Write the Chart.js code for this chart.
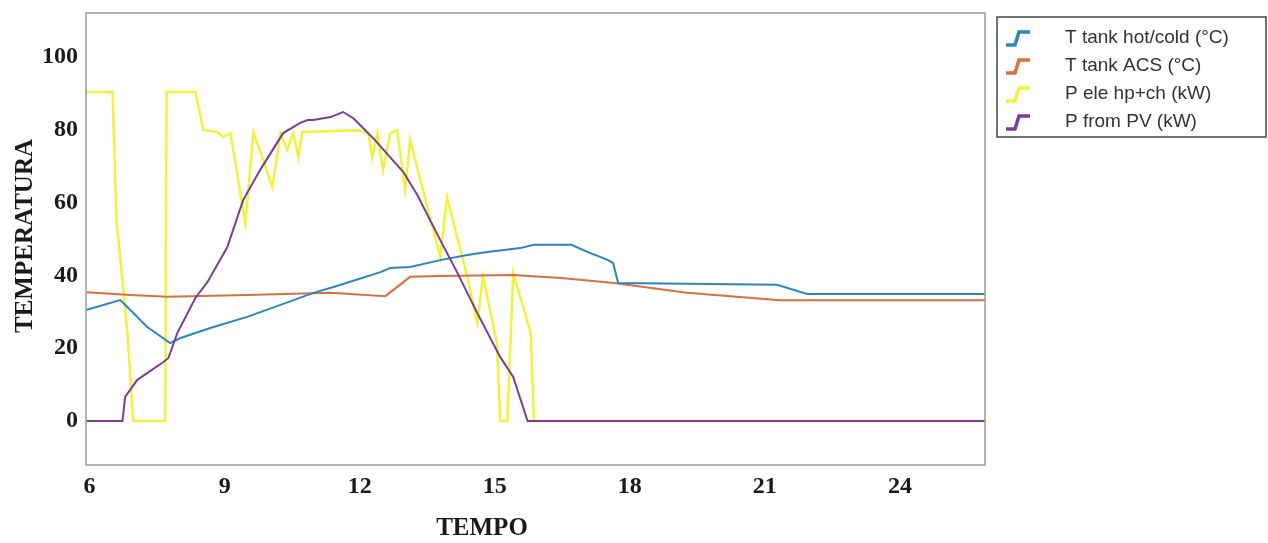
<!DOCTYPE html>
<html>
<head>
<meta charset="utf-8">
<script src="https://cdn.jsdelivr.net/npm/chart.js@4.4.1/dist/chart.umd.min.js"></script>
<style>
  html, body { margin: 0; padding: 0; background: #ffffff; }
  canvas { display: block; }
</style>
</head>
<body>
<canvas id="c" width="1268" height="543"></canvas>
<script>
// ---- Data ----
const seriesNames = ["T tank hot/cold (°C)", "T tank ACS (°C)", "P ele hp+ch (kW)", "P from PV (kW)"];

const hotColdHours = [5.92, 6.68, 6.84, 7.28, 7.79, 8.02, 8.75, 9.50, 10.24, 10.97, 11.42, 12.46, 12.68, 13.12, 13.79, 14.39, 14.83, 15.57, 15.87, 16.70, 17.07, 17.52, 17.63, 17.74, 21.27, 21.94, 25.89];
const hotColdValues = [30.5, 33.2, 31.3, 25.8, 21.4, 22.8, 25.8, 28.6, 31.9, 35.2, 36.8, 40.9, 42.0, 42.3, 44.2, 45.6, 46.4, 47.5, 48.4, 48.4, 46.4, 44.2, 43.4, 37.9, 37.4, 34.9, 34.9];

const acsHours = [5.92, 6.91, 7.73, 9.50, 11.35, 12.57, 13.12, 13.79, 15.41, 16.47, 17.65, 19.27, 21.34, 25.89];
const acsValues = [35.4, 34.6, 34.1, 34.6, 35.2, 34.3, 39.6, 39.8, 40.1, 39.3, 37.9, 35.2, 33.2, 33.2];

const eleHours = [5.92, 6.51, 6.60, 6.84, 6.97, 7.68, 7.71, 8.35, 8.53, 8.84, 8.97, 9.13, 9.46, 9.64, 10.06, 10.24, 10.39, 10.52, 10.64, 10.72, 11.97, 12.19, 12.28, 12.39, 12.52, 12.68, 12.83, 13.01, 13.12, 13.79, 13.94, 14.39, 14.61, 14.74, 15.05, 15.12, 15.28, 15.41, 15.80, 15.87, 25.89];
const eleValues = [90.4, 90.4, 55.2, 24.2, 0, 0, 90.4, 90.4, 79.9, 79.4, 78.0, 79.1, 54.4, 79.4, 64.3, 79.1, 74.5, 79.1, 72.5, 79.4, 79.9, 79.1, 72.3, 79.1, 69.0, 79.1, 79.9, 63.5, 77.2, 45.1, 61.5, 39.6, 26.9, 39.6, 21.4, 0, 0, 40.7, 24.2, 0, 0];

const pvHours = [5.92, 6.73, 6.79, 7.06, 7.64, 7.75, 7.95, 8.35, 8.62, 9.06, 9.41, 9.79, 10.30, 10.68, 10.84, 10.97, 11.35, 11.63, 11.86, 12.30, 12.97, 13.28, 13.79, 14.17, 14.61, 15.12, 15.41, 15.73, 25.89];
const pvValues = [0, 0, 6.6, 11.3, 16.2, 17.3, 24.2, 33.8, 38.2, 47.8, 60.7, 69.0, 79.1, 81.9, 82.7, 82.7, 83.5, 84.9, 83.2, 77.7, 68.4, 62.1, 49.7, 40.7, 29.7, 17.6, 12.1, 0, 0];

const xTickValues = [6, 9, 12, 15, 18, 21, 24];
const yTickValues = [0, 20, 40, 60, 80, 100];
const xTitle = "TEMPO";
const yTitle = "TEMPERATURA";

// ---- Styling ----
const colors = ["#2a86c2", "#d8703f", "#f2f23c", "#7a3f95"];
const serifBold = { family: "'Liberation Serif', 'Times New Roman', serif", size: 24, weight: 'bold' };

function pairs(h, v) { return h.map((x, i) => ({ x: x, y: v[i] })); }

const datasets = [
  { label: seriesNames[0], data: pairs(hotColdHours, hotColdValues), borderColor: colors[0], borderWidth: 2, order: 1 },
  { label: seriesNames[1], data: pairs(acsHours, acsValues), borderColor: colors[1], borderWidth: 2, order: 2 },
  { label: seriesNames[2], data: pairs(eleHours, eleValues), borderColor: colors[2], borderWidth: 2.5, order: 3 },
  { label: seriesNames[3], data: pairs(pvHours, pvValues), borderColor: colors[3], borderWidth: 2, order: 0 }
].map(d => Object.assign(d, { pointRadius: 0, tension: 0, fill: false }));

const framePlugin = {
  id: 'frame',
  afterDraw(chart) {
    const { ctx, chartArea: a } = chart;
    ctx.save();
    // plot box
    ctx.strokeStyle = '#9a9a9a';
    ctx.lineWidth = 1.5;
    ctx.strokeRect(a.left, a.top, a.right - a.left, a.bottom - a.top);

    // axis titles
    ctx.fillStyle = '#1a1a1a';
    ctx.font = "bold 25px 'Liberation Serif', 'Times New Roman', serif";
    ctx.textAlign = 'center';
    ctx.textBaseline = 'middle';
    ctx.fillText(xTitle, 482, 529);
    ctx.save();
    ctx.translate(26, 236);
    ctx.rotate(-Math.PI / 2);
    ctx.fillText(yTitle, 0, 0);
    ctx.restore();

    // legend
    const bx = 997, by = 17, bw = 269, bh = 120;
    ctx.fillStyle = '#ffffff';
    ctx.fillRect(bx, by, bw, bh);
    ctx.strokeStyle = '#444444';
    ctx.lineWidth = 1.5;
    ctx.strokeRect(bx, by, bw, bh);
    const rows = [38, 66, 94, 122];
    ctx.font = "19px 'Liberation Sans', Arial, sans-serif";
    ctx.textAlign = 'left';
    ctx.textBaseline = 'middle';
    seriesNames.forEach((name, i) => {
      const y = rows[i];
      ctx.strokeStyle = colors[i];
      ctx.lineWidth = 3.5;
      ctx.beginPath();
      ctx.moveTo(1006, y + 7);
      ctx.lineTo(1015, y + 7);
      ctx.lineTo(1019, y - 6);
      ctx.lineTo(1030, y - 6);
      ctx.stroke();
      ctx.fillStyle = '#333333';
      ctx.fillText(name, 1065, y);
    });
    ctx.restore();
  }
};

new Chart(document.getElementById('c').getContext('2d'), {
  type: 'line',
  data: { datasets: datasets },
  options: {
    responsive: false,
    animation: false,
    layout: { padding: { left: 0, right: 283, top: 13, bottom: 0 } },
    plugins: { legend: { display: false }, tooltip: { enabled: false } },
    scales: {
      x: {
        type: 'linear',
        min: 5.92,
        max: 25.89,
        afterBuildTicks: s => { s.ticks = xTickValues.map(v => ({ value: v })); },
        afterFit: s => { s.height = 78; s.paddingLeft = 0; s.paddingRight = 0; },
        grid: { display: false, drawTicks: false },
        border: { display: false },
        ticks: { padding: 7, color: '#1a1a1a', font: serifBold, maxRotation: 0, autoSkip: false }
      },
      y: {
        type: 'linear',
        min: -12.1,
        max: 112.1,
        afterBuildTicks: s => { s.ticks = yTickValues.map(v => ({ value: v })); },
        afterFit: s => { s.width = 86; s.paddingTop = 0; s.paddingBottom = 0; },
        grid: { display: false, drawTicks: false },
        border: { display: false },
        ticks: { padding: 8, color: '#1a1a1a', font: serifBold }
      }
    }
  },
  plugins: [framePlugin]
});
</script>
</body>
</html>
